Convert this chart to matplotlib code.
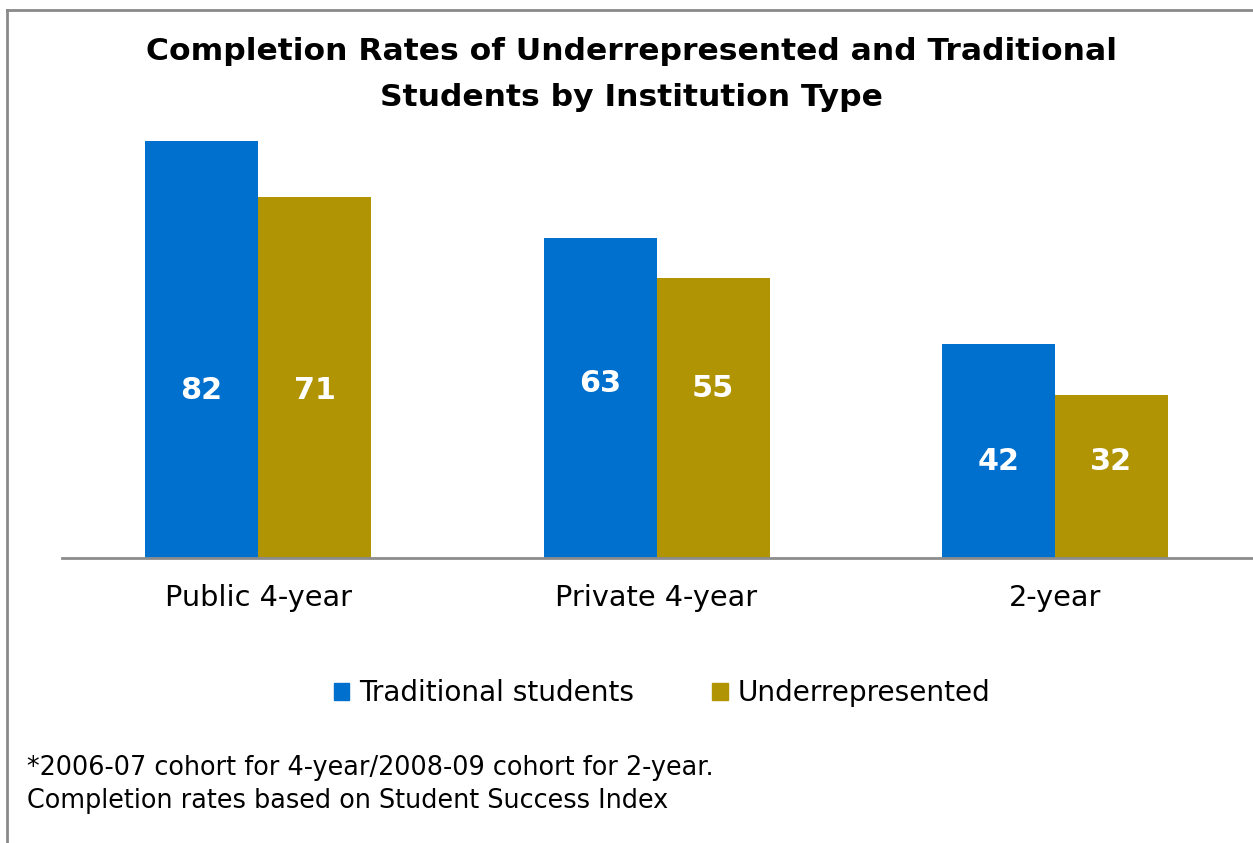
import matplotlib
matplotlib.use("Agg")
import matplotlib.pyplot as plt
import numpy as np
from matplotlib.lines import Line2D
from matplotlib.patches import Patch

plt.rcParams['font.family'] = ['DejaVu Sans']

categories = ["Public 4-year", "Private 4-year", "2-year"]
series_names = ["Traditional students", "Underrepresented"]
traditional = [82, 63, 42]
underrepresented = [71, 55, 32]
title_lines = ["Completion Rates of Underrepresented and Traditional",
               "Students by Institution Type"]
footnote = ["*2006-07 cohort for 4-year/2008-09 cohort for 2-year.",
            "Completion rates based on Student Success Index"]

# layout (label heights in data units)
label_y_trad = [33.0, 34.4, 18.9]
label_y_under = [33.0, 33.4, 18.9]
colors = ["#0070CE", "#B09404"]

W, H = 1253, 843
fig = plt.figure(figsize=(W / 100, H / 100), dpi=100)
ax = fig.add_axes([62 / W, 1 - 558 / H, 1 - 62 / W, 85 * 5.085 / H])

x = np.arange(len(categories))
bw = 0.2836
ax.bar(x - bw / 2, traditional, width=bw, color=colors[0], label=series_names[0])
ax.bar(x + bw / 2, underrepresented, width=bw, color=colors[1], label=series_names[1])

for i in range(len(categories)):
    ax.text(x[i] - bw / 2, label_y_trad[i], str(traditional[i]), color="white",
            fontsize=21.8, fontweight="bold", ha="center", va="center")
    ax.text(x[i] + bw / 2, label_y_under[i], str(underrepresented[i]), color="white",
            fontsize=21.8, fontweight="bold", ha="center", va="center")

ax.set_xlim(-0.492, 2.497)
ax.set_ylim(0, 85)
for s in ["top", "right", "left"]:
    ax.spines[s].set_visible(False)
ax.spines["bottom"].set_color("#8c8c8c")
ax.spines["bottom"].set_linewidth(2)
ax.set_yticks([])
ax.set_xticks(x)
ax.set_xticklabels(categories, fontsize=20.7)
ax.tick_params(axis="x", length=0, pad=19)
ax.patch.set_alpha(0)

fig.text(631 / W, 1 - 52 / H, title_lines[0], ha="center", va="center", fontsize=22.6,
         fontweight="bold")
fig.text(631 / W, 1 - 97 / H, title_lines[1], ha="center", va="center", fontsize=22.6,
         fontweight="bold")

handles = [Patch(color=colors[0]), Patch(color=colors[1])]
fig.legend(handles, series_names, loc="center", bbox_to_anchor=(662 / W, 1 - 693 / H),
           ncol=2, frameon=False, fontsize=20.2, handlelength=0.55, handleheight=0.55,
           handletextpad=0.35, columnspacing=2.8)

fig.text(27 / W, 1 - 768 / H, footnote[0], ha="left", va="center", fontsize=18.4)
fig.text(27 / W, 1 - 801 / H, footnote[1], ha="left", va="center", fontsize=18.4)

# outer frame (left and top)
fig.add_artist(Line2D([7 / W, 7 / W], [0, 1 - 10 / H], transform=fig.transFigure,
                      color="#8a8a8a", lw=2))
fig.add_artist(Line2D([7 / W, 1], [1 - 10 / H, 1 - 10 / H], transform=fig.transFigure,
                      color="#8a8a8a", lw=2))

fig.savefig("out.png", dpi=100)
